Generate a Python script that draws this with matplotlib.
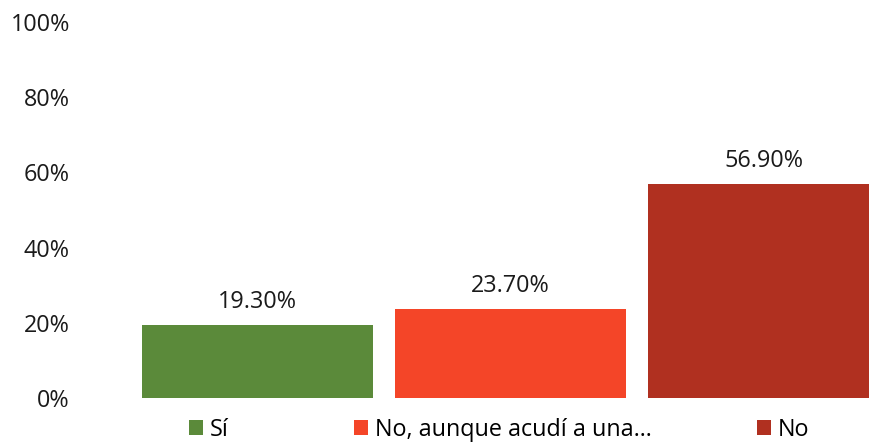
import matplotlib
matplotlib.use("Agg")
import matplotlib.pyplot as plt
from matplotlib.patches import Patch

plt.rcParams['font.family'] = ['Open Sans', 'DejaVu Sans']

categories = ["Sí", "No, aunque acudí a una…", "No"]
values = [19.30, 23.70, 56.90]
colors = ["#5B8A3A", "#F44528", "#B03020"]
yticks = [0, 20, 40, 60, 80, 100]
ytick_labels = ["0%", "20%", "40%", "60%", "80%", "100%"]

FS = 16.8
W, H = 869, 446
fig = plt.figure(figsize=(W / 100, H / 100), dpi=100)
left, right = 131, 869
bottom_px, top_px = 398, 22
ax = fig.add_axes([left / W, 1 - bottom_px / H, (right - left) / W, (bottom_px - top_px) / H])

x = list(range(len(categories)))
bw = 231 / 253
ax.bar(x, values, width=bw, color=colors)
for xi, v in zip(x, values):
    ax.text(xi, v + 3.0, f"{v:.2f}%", ha="center", va="bottom", fontsize=FS, color="#1a1a1a")

ax.set_xlim(-0.5, -0.5 + (right - left) / 253)
ax.set_ylim(0, 100)
ax.set_yticks(yticks)
ax.set_yticklabels(ytick_labels, fontsize=FS, color="#1a1a1a")
ax.tick_params(axis="y", length=0, pad=44)
ax.set_xticks([])
for s in ax.spines.values():
    s.set_visible(False)

legend_x = [189, 354, 757]
for cat, col, lx in zip(categories, colors, legend_x):
    fig.legend(handles=[Patch(facecolor=col, label=cat)], loc="center left",
               bbox_to_anchor=(lx / W, 1 - 430 / H), frameon=False, fontsize=FS,
               handlelength=0.6, handleheight=0.6, handletextpad=0.3, borderpad=0,
               borderaxespad=0)

fig.savefig("out.png", dpi=100)
